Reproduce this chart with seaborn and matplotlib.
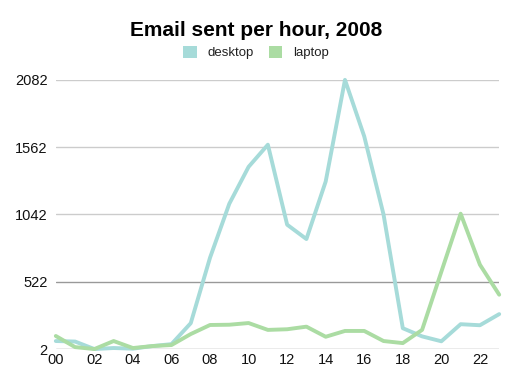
import seaborn as sns
import matplotlib.pyplot as plt
import pandas as pd

# data
hours = list(range(24))
desktop = [64, 60, 2, 10, 5, 25, 40, 202, 708, 1125, 1410, 1581, 963, 852, 1297, 2082,
           1645, 1042, 163, 100, 62, 194, 186, 272]
laptop = [103, 17, 2, 64, 10, 25, 33, 118, 188, 190, 203, 150, 155, 175, 97, 142,
          142, 64, 48, 150, 600, 1048, 654, 422]
yticks = [2, 522, 1042, 1562, 2082]

df = pd.DataFrame({
    'hour': hours * 2,
    'emails': desktop + laptop,
    'device': ['desktop'] * 24 + ['laptop'] * 24,
})

sns.set_theme(style="white")
plt.rcParams['font.family'] = ['Liberation Sans', 'DejaVu Sans']
plt.rcParams['text.color'] = 'black'

fig = plt.figure(figsize=(5.12, 3.84), dpi=100)
ax = fig.add_axes([0.109, 0.091, 0.866, 0.701])

palette = {'desktop': '#a6dbd9', 'laptop': '#abdca3'}
sns.lineplot(data=df, x='hour', y='emails', hue='device', palette=palette,
             linewidth=2.8, ax=ax, legend=False, clip_on=False)

for t in yticks:
    ax.axhline(t, color='#999999' if t in (2, 522) else '#cccccc', linewidth=1, zorder=0)

ax.set_xlim(0, 23)
ax.set_ylim(2, 2082)
ax.set_yticks(yticks)
ax.set_yticklabels([str(t) for t in yticks])
ax.set_xticks(range(0, 24, 2))
ax.set_xticklabels(['%02d' % h for h in range(0, 24, 2)])
ax.tick_params(axis='both', labelsize=10.5, colors='#111111', length=0, pad=6)
ax.tick_params(axis='x', pad=3)
ax.set_xlabel('')
ax.set_ylabel('')
sns.despine(ax=ax, left=True, bottom=True)

# legend with square swatches
from matplotlib.patches import Patch
handles = [Patch(facecolor=palette[k], edgecolor='none', label=k) for k in ['desktop', 'laptop']]
fig.legend(handles=handles, loc='center', bbox_to_anchor=(0.5, 0.863), ncol=2,
           frameon=False, fontsize=9.5, handlelength=1.0, handleheight=1.0,
           columnspacing=1.2, handletextpad=0.8, labelcolor='#222222')

fig.suptitle('Email sent per hour, 2008', fontsize=15, fontweight='bold', y=0.945, color='black')

fig.savefig('out.png', dpi=100, facecolor='white')
